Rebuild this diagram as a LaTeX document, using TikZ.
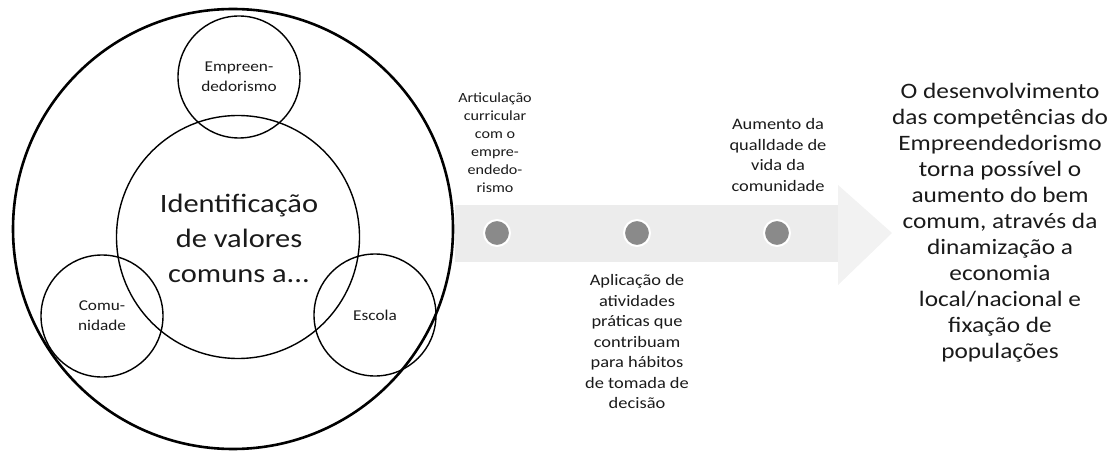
\documentclass[tikz,border=0pt]{standalone}
\usepackage{fontspec}
\setmainfont[FakeStretch=1.15]{Carlito}
\usetikzlibrary{shapes.geometric}
\definecolor{band}{HTML}{ECECEC}
\definecolor{bandhead}{HTML}{F2F2F2}
\definecolor{dotc}{HTML}{8A8A8A}
\definecolor{txt}{HTML}{1A1A1A}
\tikzset{
  ring/.style={draw=black, line width=1.4pt, circle, inner sep=0pt, align=center, font=\fontsize{15}{20}\selectfont, text=txt},
  tl/.style={align=center, font=\fontsize{14}{18}\selectfont, text=txt},
  tl2/.style={align=center, font=\fontsize{16}{20.5}\selectfont, text=txt},
  dotn/.style={circle, fill=dotc, draw=white, line width=2pt, minimum size=26pt, inner sep=0pt},
}
\begin{document}
\begin{tikzpicture}[x=1pt,y=-1pt]
\useasboundingbox (0,0) rectangle (1115,454);
% arrow band
\fill[band] (455,205) -- (840,205) -- (840,262) -- (455,262) -- cycle;
\fill[bandhead] (838,185) -- (892,233) -- (838,285) -- cycle;
% circles
\node[circle, draw=black, line width=2.6pt, minimum size=440pt, inner sep=0pt] (outer) at (233,229) {};
\node[ring, minimum size=243pt] (center) at (238,237) {};
\node[ring, minimum size=122pt] (emp) at (239,77) {Empreen-\\dedorismo};
\node[ring, minimum size=122pt] (com) at (102,316) {Comu-\\nidade};
\node[ring, minimum size=122pt] (esc) at (375,315) {Escola};
\node[align=center, font=\fontsize{26.5}{35}\selectfont, text=txt] (ctext) at (239,238) {Identificação\\de valores\\comuns a...};
% dots
\node[dotn] (d1) at (497,233) {};
\node[dotn] (d2) at (637,233) {};
\node[dotn] (d3) at (777,233) {};
% timeline labels
\node[tl, anchor=south] (t1) at (495,196) {Articulação\\curricular\\com o\\empre-\\endedo-\\rismo};
\node[tl2, anchor=south] (t3) at (778,195) {Aumento da\\qualldade de\\vida da\\comunidade};
\node[tl2, anchor=north] (t2) at (637,271) {Aplicação de\\atividades\\práticas que\\contribuam\\para hábitos\\de tomada de\\decisão};
% right text
\node[align=center, font=\fontsize{22}{26}\selectfont, text=txt] (res) at (1000,223) {O desenvolvimento\\das competências do\\Empreendedorismo\\torna possível o\\aumento do bem\\comum, através da\\dinamização a\\economia\\local/nacional e\\fixação de\\populações};
\end{tikzpicture}
\end{document}
